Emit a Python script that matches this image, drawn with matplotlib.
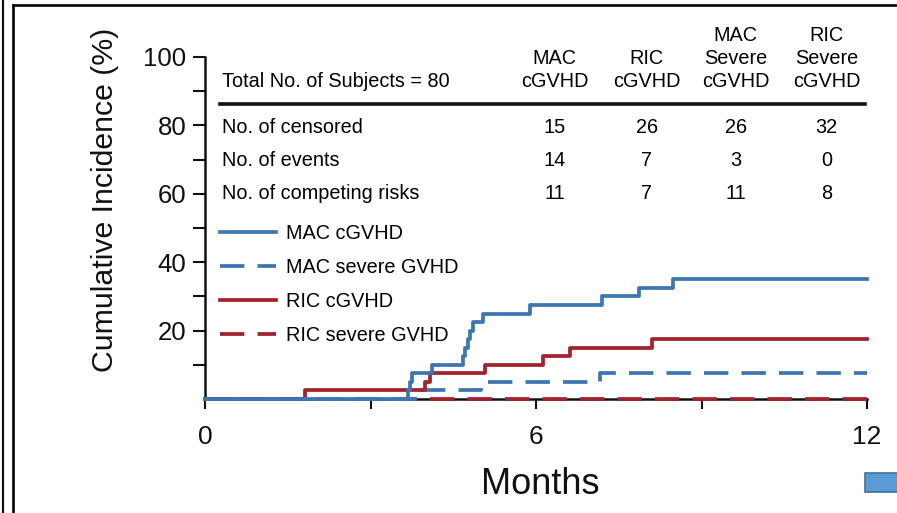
import matplotlib
matplotlib.use('Agg')
import matplotlib.pyplot as plt
from matplotlib.lines import Line2D
from matplotlib.patches import Rectangle

plt.rcParams['font.family'] = ['Liberation Sans', 'DejaVu Sans']

BLUE = '#3d77b1'
RED = '#a2232e'

# cumulative incidence curves (months, %)
mac_cgvhd_t = [0, 3.68, 3.72, 3.76, 4.11, 4.68, 4.72, 4.76, 4.80, 4.86, 5.04, 5.90, 7.20, 7.87, 8.48, 12]
mac_cgvhd_y = [0, 2.5, 5, 7.5, 10, 12.5, 15, 17.5, 20, 22.5, 25, 27.5, 30, 32.5, 35, 35]
ric_cgvhd_t = [0, 1.81, 3.99, 4.08, 5.08, 6.12, 6.62, 8.10, 12]
ric_cgvhd_y = [0, 2.5, 5, 7.5, 10, 12.5, 15, 17.5, 17.5]
mac_severe_t = [0, 3.80, 5.00, 7.16, 12]
mac_severe_y = [0, 2.5, 5, 7.5, 7.5]
ric_severe_t = [0, 12]
ric_severe_y = [0, 0]

# summary table
table_title = 'Total No. of Subjects = 80'
table_columns = ['MAC\ncGVHD', 'RIC\ncGVHD', 'MAC\nSevere\ncGVHD', 'RIC\nSevere\ncGVHD']
row_labels = ['No. of censored', 'No. of events', 'No. of competing risks']
n_censored = [15, 26, 26, 32]
n_events = [14, 7, 3, 0]
n_competing = [11, 7, 11, 8]

fig = plt.figure(figsize=(8.97, 5.13), dpi=100)
ax = fig.add_axes([205 / 897, 1 - 399 / 513, 662 / 897, 342 / 513])

lw = 2.7
l_rs, = ax.step(ric_severe_t, ric_severe_y, where='post', color=RED, lw=lw,
                dashes=(6.5, 3.5), clip_on=False, zorder=3, label='RIC severe GVHD')
l_ms, = ax.step(mac_severe_t, mac_severe_y, where='post', color=BLUE, lw=lw,
                dashes=(6.5, 3.5), clip_on=False, zorder=4, label='MAC severe GVHD')
l_rc, = ax.step(ric_cgvhd_t, ric_cgvhd_y, where='post', color=RED, lw=lw,
                clip_on=False, zorder=5, label='RIC cGVHD')
l_mc, = ax.step(mac_cgvhd_t, mac_cgvhd_y, where='post', color=BLUE, lw=lw,
                clip_on=False, zorder=6, label='MAC cGVHD')

ax.set_xlim(0, 12)
ax.set_ylim(0, 100)
for s in ['top', 'right']:
    ax.spines[s].set_visible(False)
for s in ['left', 'bottom']:
    ax.spines[s].set_linewidth(1.8)
    ax.spines[s].set_color('#111111')

ax.set_xticks([0, 3, 6, 9, 12])
ax.set_xticklabels(['0', '', '6', '', '12'])
ax.set_yticks(range(10, 101, 10))
ax.set_yticklabels([str(v) if v % 20 == 0 else '' for v in range(10, 101, 10)])
ax.tick_params(axis='x', direction='out', length=7, width=1.5, pad=12,
               labelsize=19, colors='#111111')
ax.tick_params(axis='y', direction='out', length=8.5, width=1.5, pad=5,
               labelsize=18.5, colors='#111111')

fig.text(105 / 897, 1 - 200 / 513, 'Cumulative Incidence (%)', rotation=90,
         ha='center', va='center', fontsize=21.8, color='#111111')
fig.text(540 / 897, 1 - 484 / 513, 'Months', ha='center', va='center',
         fontsize=26, color='#111111')

# table
fs = 14.3
col_x = [6.34, 8.01, 9.62, 11.27]
header_base = [91.3, 98.0, 104.8]
row_y = [77.9, 68.2, 58.6]
ax.text(0.31, header_base[0], table_title, fontsize=fs, va='baseline', ha='left')
for x, col in zip(col_x, table_columns):
    for i, line in enumerate(reversed(col.split('\n'))):
        ax.text(x, header_base[i], line, fontsize=fs, va='baseline', ha='center')
ax.plot([0.27, 11.96], [86.3, 86.3], color='#111111', lw=2.6, clip_on=False)
for y, label, vals in zip(row_y, row_labels, [n_censored, n_events, n_competing]):
    ax.text(0.31, y, label, fontsize=fs, va='baseline', ha='left')
    for x, v in zip(col_x, vals):
        ax.text(x, y, str(v), fontsize=fs, va='baseline', ha='center')

ax.legend(handles=[l_mc, l_ms, l_rc, l_rs], loc='upper left',
          bbox_to_anchor=(0.0227, 0.512), frameon=False, fontsize=fs,
          handlelength=2.8, handletextpad=0.5, labelspacing=0.76,
          borderpad=0, borderaxespad=0)

# page frame around the figure panel
fig.add_artist(Line2D([3 / 897, 3 / 897], [0, 1], color='#111111', lw=1.6))
fig.add_artist(Line2D([13 / 897, 13 / 897], [0, 1 - 5 / 513], color='#111111', lw=2.0))
fig.add_artist(Line2D([13 / 897, 1], [1 - 5 / 513, 1 - 5 / 513], color='#111111', lw=2.0))
fig.add_artist(Rectangle((865 / 897, 1 - 492 / 513), 40 / 897, 19 / 513,
                         facecolor='#5b9bd5', edgecolor='#41719c', lw=1.2))

fig.savefig('out.png', dpi=100)
